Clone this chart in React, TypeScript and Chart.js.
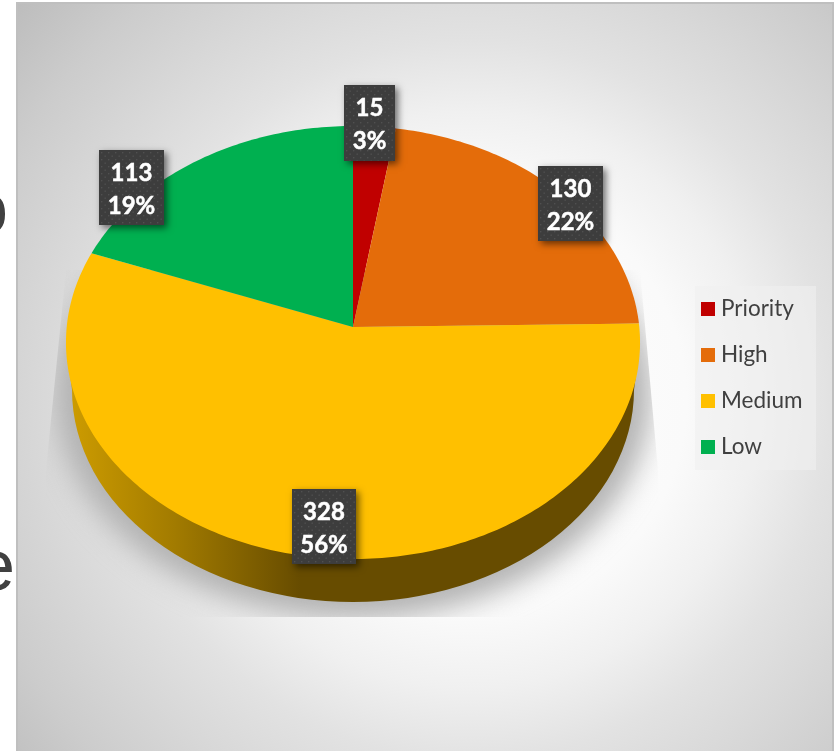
import React, { useEffect, useRef } from "react";
import { Chart, registerables } from "chart.js";

Chart.register(...registerables);

const categories = ["Priority", "High", "Medium", "Low"];
const counts = [15, 130, 328, 113];
const sliceColors = ["#c00000", "#e46c0a", "#ffc000", "#00b050"];

const W = 838;
const H = 751;

// Perspective disc: the apex sits above the centre of the rim ellipse.
const APEX_X = 353;
const APEX_Y = 327;
const REACH_UP = 201;
const REACH_DOWN = 232;
const TILT = (REACH_UP - REACH_DOWN) / (REACH_UP + REACH_DOWN);
const SPAN_Y = REACH_UP * (1 - TILT);
const SPAN_X = 286.3;

const project = (angle: number) => {
  const c = Math.cos(angle);
  const s = Math.sin(angle);
  const d = 1 + TILT * s;
  return { x: APEX_X + (SPAN_X * c) / d, y: APEX_Y + (SPAN_Y * s) / d };
};

// Label plates, in slice order: left, top, width, height.
const plates = [
  [344, 85, 51, 76],
  [538, 166, 65, 75],
  [292, 489, 64, 75],
  [99, 150, 65, 75],
];

const drawBackdrop = (ctx: CanvasRenderingContext2D) => {
  ctx.save();
  ctx.fillStyle = "#ffffff";
  ctx.fillRect(0, 0, W, H);
  const g = ctx.createRadialGradient(470, 400, 0, 470, 400, 600);
  g.addColorStop(0, "#ffffff");
  g.addColorStop(0.36, "#fafafa");
  g.addColorStop(0.48, "#f0f0f0");
  g.addColorStop(0.6, "#e2e2e2");
  g.addColorStop(0.72, "#d8d8d8");
  g.addColorStop(0.86, "#cccccc");
  g.addColorStop(1, "#bdbdbd");
  ctx.fillStyle = g;
  ctx.fillRect(16, 2, 817, 749);
  ctx.strokeStyle = "#bfbfbf";
  ctx.lineWidth = 2;
  ctx.beginPath();
  ctx.moveTo(17, H);
  ctx.lineTo(17, 3);
  ctx.lineTo(833, 3);
  ctx.lineTo(833, H);
  ctx.stroke();

  // Slide lettering showing past the panel's left edge
  ctx.fillStyle = "#404040";
  ctx.font = "72px 'Liberation Sans'";
  ctx.textBaseline = "alphabetic";
  ctx.textAlign = "right";
  ctx.save();
  ctx.beginPath();
  ctx.rect(0, 0, 16, H);
  ctx.clip();
  ctx.fillText("o", 8, 233);
  ctx.fillText("e", 15, 590);
  ctx.restore();
  ctx.restore();
};

const drawShadow = (ctx: CanvasRenderingContext2D) => {
  ctx.save();
  ctx.beginPath();
  ctx.moveTo(66, 270);
  ctx.lineTo(640, 270);
  ctx.lineTo(658, 470);
  ctx.lineTo(658, 617);
  ctx.lineTo(46, 617);
  ctx.lineTo(46, 470);
  ctx.closePath();
  ctx.clip();
  ctx.filter = "blur(14px)";
  ctx.fillStyle = "#b2b2b2";
  ctx.beginPath();
  ctx.ellipse(353, 393, 298, 226, 0, 0, Math.PI * 2);
  ctx.fill();
  ctx.restore();
};

const drawWall = (ctx: CanvasRenderingContext2D) => {
  ctx.save();
  const g = ctx.createLinearGradient(72, 0, 300, 0);
  g.addColorStop(0, "#cc9b00");
  g.addColorStop(0.45, "#a27b00");
  g.addColorStop(1, "#674c00");
  ctx.fillStyle = g;
  ctx.beginPath();
  ctx.moveTo(66, 342);
  ctx.lineTo(72, 390);
  ctx.ellipse(353, 390, 281, 212, 0, Math.PI, 0, true);
  ctx.lineTo(640, 342);
  ctx.closePath();
  ctx.fill();
  ctx.restore();
};

const drawSlices = (chart: Chart) => {
  const ctx = chart.ctx;
  const arcs = chart.getDatasetMeta(0).data as any[];
  ctx.save();
  arcs.forEach((arc) => {
    const { startAngle, endAngle } = arc.getProps(["startAngle", "endAngle"], true);
    const steps = Math.max(4, Math.ceil((endAngle - startAngle) * 60));
    ctx.beginPath();
    ctx.moveTo(APEX_X, APEX_Y);
    for (let i = 0; i <= steps; i++) {
      const p = project(startAngle + ((endAngle - startAngle) * i) / steps);
      ctx.lineTo(p.x, p.y);
    }
    ctx.closePath();
    ctx.fillStyle = arc.options.backgroundColor;
    ctx.fill();
  });
  ctx.restore();
};

const drawPlates = (ctx: CanvasRenderingContext2D) => {
  const total = counts.reduce((a, b) => a + b, 0);
  counts.forEach((count, i) => {
    const [x, y, w, h] = plates[i];
    ctx.save();
    ctx.shadowColor = "rgba(0,0,0,0.55)";
    ctx.shadowBlur = 7;
    ctx.shadowOffsetX = 3;
    ctx.shadowOffsetY = 3;
    ctx.fillStyle = "#3d3d3d";
    ctx.fillRect(x, y, w, h);
    ctx.restore();

    // Dotted plate texture
    ctx.save();
    ctx.beginPath();
    ctx.rect(x, y, w, h);
    ctx.clip();
    ctx.fillStyle = "#505050";
    for (let row = 0; row * 3.5 < h; row++) {
      for (let col = 0; col * 7 < w + 7; col++) {
        ctx.fillRect(x + 2 + col * 7 - (row % 2) * 3.5, y + 2 + row * 3.5, 1.4, 1.4);
      }
    }
    ctx.restore();

    ctx.save();
    ctx.fillStyle = "#ffffff";
    ctx.strokeStyle = "#ffffff";
    ctx.lineWidth = 0.5;
    ctx.font = "700 24px Lato";
    ctx.textAlign = "center";
    ctx.textBaseline = "alphabetic";
    const cx = x + w / 2;
    const lines = [String(count), `${Math.round((count / total) * 100)}%`];
    lines.forEach((line, n) => {
      const base = y + 31 + n * 33;
      ctx.fillText(line, cx, base);
      ctx.strokeText(line, cx, base);
    });
    ctx.restore();
  });
};

const drawKey = (ctx: CanvasRenderingContext2D) => {
  ctx.save();
  ctx.fillStyle = "rgba(240,240,240,0.6)";
  ctx.fillRect(695, 286, 121, 184);
  ctx.font = "22.5px Lato";
  ctx.textAlign = "left";
  ctx.textBaseline = "middle";
  categories.forEach((name, i) => {
    const y = 309 + i * 46;
    ctx.fillStyle = sliceColors[i];
    ctx.fillRect(701, y - 7, 14, 14);
    ctx.fillStyle = "#404040";
    ctx.fillText(name, 721, y);
  });
  ctx.restore();
};

const panelPlugin = {
  id: "panel",
  beforeDraw: (chart: Chart) => drawBackdrop(chart.ctx),
  beforeDatasetsDraw: (chart: Chart) => {
    drawShadow(chart.ctx);
    drawWall(chart.ctx);
  },
  beforeDatasetDraw: () => false,
  afterDatasetsDraw: (chart: Chart) => {
    drawSlices(chart);
    drawKey(chart.ctx);
    drawPlates(chart.ctx);
  },
};

export default function App() {
  const ref = useRef<HTMLCanvasElement>(null);

  useEffect(() => {
    const chart = new Chart(ref.current!, {
      type: "pie",
      data: {
        labels: categories,
        datasets: [{ data: counts, backgroundColor: sliceColors, borderWidth: 0 }],
      },
      options: {
        responsive: false,
        animation: false,
        plugins: { legend: { display: false }, tooltip: { enabled: false } },
      },
      plugins: [panelPlugin],
    });
    return () => chart.destroy();
  }, []);

  return (
    <canvas
      ref={ref}
      width={W}
      height={H}
      style={{ position: "fixed", left: 0, top: 0, display: "block" }}
    />
  );
}
